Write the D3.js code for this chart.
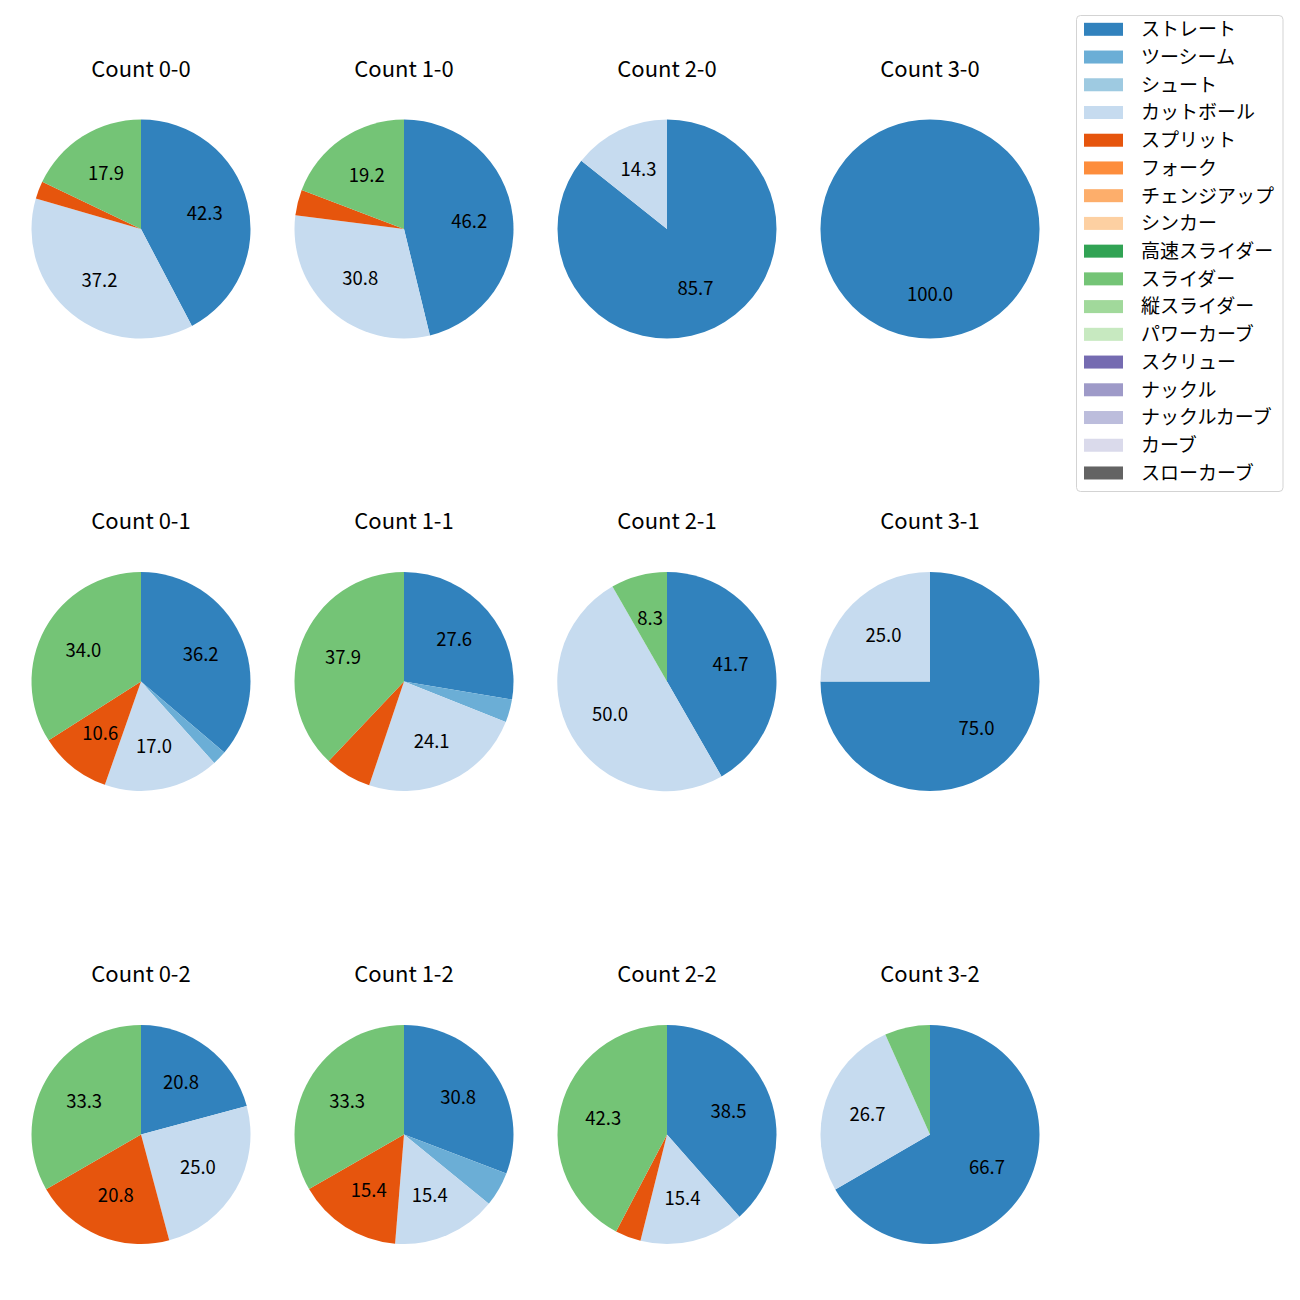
<!DOCTYPE html>
<html>
<head>
<meta charset="utf-8">
<script src="https://cdn.jsdelivr.net/npm/d3@7"></script>
<style>
  html, body { margin: 0; padding: 0; background: #ffffff; }
  svg { display: block; font-family: "Noto Sans CJK JP", "Noto Sans", sans-serif; }
</style>
</head>
<body>
<svg id="chart" width="1300" height="1300"></svg>
<script>
// ---- data ----
const pitchTypes = ["ストレート", "ツーシーム", "シュート", "カットボール", "スプリット", "フォーク",
  "チェンジアップ", "シンカー", "高速スライダー", "スライダー", "縦スライダー", "パワーカーブ",
  "スクリュー", "ナックル", "ナックルカーブ", "カーブ", "スローカーブ"];
const pitchColors = ["#3182bd", "#6baed6", "#9ecae1", "#c6dbef", "#e6550d", "#fd8d3c",
  "#fdae6b", "#fdd0a2", "#31a354", "#74c476", "#a1d99b", "#c7e9c0",
  "#756bb1", "#9e9ac8", "#bcbddc", "#dadaeb", "#636363"];
const countLabels = ["0-0", "1-0", "2-0", "3-0", "0-1", "1-1", "2-1", "3-1", "0-2", "1-2", "2-2", "3-2"];

// percentage per count (same order as countLabels)
const straight = [42.3, 46.2, 85.7, 100.0, 36.2, 27.6, 41.7, 75.0, 20.8, 30.8, 38.5, 66.7];
const twoSeam  = [0, 0, 0, 0, 2.1, 3.4, 0, 0, 0, 5.1, 0, 0];
const cutter   = [37.2, 30.8, 14.3, 0, 17.0, 24.1, 50.0, 25.0, 25.0, 15.4, 15.4, 26.7];
const split    = [2.6, 3.8, 0, 0, 10.6, 6.9, 0, 0, 20.8, 15.4, 3.8, 0];
const slider   = [17.9, 19.2, 0, 0, 34.0, 37.9, 8.3, 0, 33.3, 33.3, 42.3, 6.7];

const seriesByType = {
  "ストレート": straight,
  "ツーシーム": twoSeam,
  "カットボール": cutter,
  "スプリット": split,
  "スライダー": slider
};

// ---- layout ----
const svg = d3.select("#chart");
const colCenters = [141, 404, 667, 930];
const rowCenters = [229, 681.5, 1134.5];
const radius = 109.5;
const labelThreshold = 7.5;

const color = d3.scaleOrdinal().domain(pitchTypes).range(pitchColors);

const pie = d3.pie().sort(null).value(d => d.value).startAngle(0).endAngle(2 * Math.PI);
const arc = d3.arc().innerRadius(0).outerRadius(radius);
const labelArc = d3.arc().innerRadius(radius * 0.6).outerRadius(radius * 0.6);

countLabels.forEach((cnt, i) => {
  const col = i % 4, row = Math.floor(i / 4);
  const cx = colCenters[col], cy = rowCenters[row];
  const data = pitchTypes.map(p => ({ type: p, value: seriesByType[p] ? seriesByType[p][i] : 0 }))
    .filter(d => d.value > 0);
  const g = svg.append("g").attr("transform", `translate(${cx},${cy})`);
  const arcs = pie(data);
  g.selectAll("path").data(arcs).join("path")
    .attr("d", arc)
    .attr("fill", d => color(d.data.type));
  g.selectAll("text").data(arcs.filter(d => d.data.value >= labelThreshold)).join("text")
    .attr("transform", d => `translate(${labelArc.centroid(d)})`)
    .attr("text-anchor", "middle")
    .attr("dy", "0.36em")
    .attr("font-size", 18.5)
    .attr("fill", "#000")
    .text(d => d.data.value.toFixed(1));
  svg.append("text")
    .attr("x", cx).attr("y", cy - 160)
    .attr("text-anchor", "middle")
    .attr("dy", "0.36em")
    .attr("font-size", 22)
    .attr("fill", "#000")
    .text("Count " + cnt);
});

// ---- legend ----
const legend = svg.append("g");
legend.append("rect")
  .attr("x", 1076.5).attr("y", 15.5)
  .attr("width", 206.5).attr("height", 476)
  .attr("rx", 4).attr("ry", 4)
  .attr("fill", "#ffffff").attr("fill-opacity", 0.8)
  .attr("stroke", "#d3d3d3").attr("stroke-width", 1);
const rowStep = 27.73;
const items = legend.selectAll("g.item").data(pitchTypes).join("g")
  .attr("class", "item")
  .attr("transform", (d, i) => `translate(0,${29.3 + i * rowStep})`);
items.append("rect")
  .attr("x", 1084).attr("y", -6.5)
  .attr("width", 39).attr("height", 13)
  .attr("fill", d => color(d));
items.append("text")
  .attr("x", 1141).attr("y", 0)
  .attr("dy", "0.36em")
  .attr("font-size", 19)
  .attr("fill", "#000")
  .text(d => d);
</script>
</body>
</html>
